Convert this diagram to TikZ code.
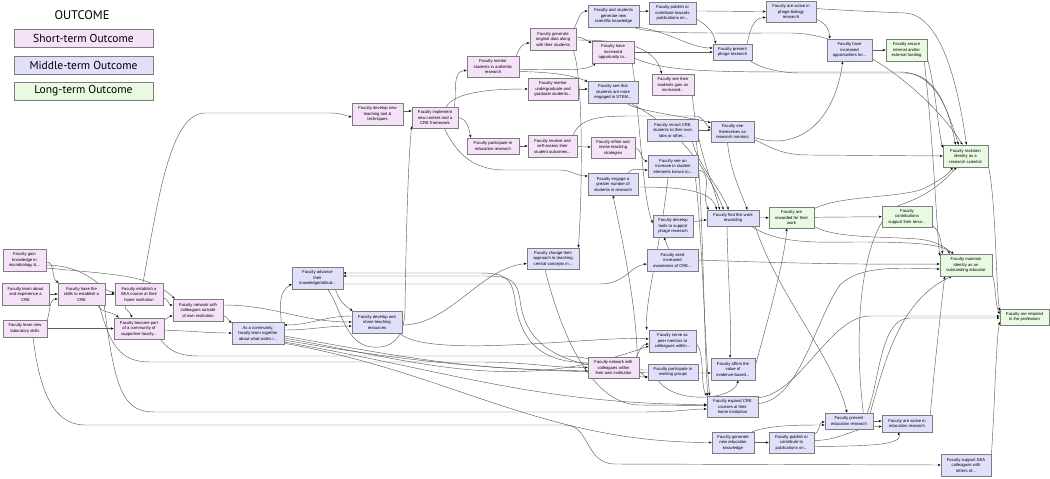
\documentclass[tikz,border=0pt]{standalone}
\usepackage{fontspec}
\setmainfont{Liberation Sans}
\newfontfamily\legfont{PT Sans}
\usetikzlibrary{arrows.meta,backgrounds}
\definecolor{stc}{RGB}{245,225,248}
\definecolor{mtc}{RGB}{224,224,250}
\definecolor{ltc}{RGB}{232,250,226}
\definecolor{bdc}{RGB}{125,125,125}
\definecolor{lnc}{RGB}{95,95,95}
\newcommand{\bx}[7]{\node[box,#6,minimum width={((#4)-(#2))*1pt},minimum height={((#5)-(#3))*1pt}] (#1) at ({((#2)+(#4))/2},{-((#3)+(#5))/2}) {#7};}
\begin{document}
\begin{tikzpicture}[x=1pt,y=1pt,
 box/.style={draw=bdc,line width=0.6pt,inner sep=0.5pt,align=center,font=\fontsize{4.2}{5.5}\selectfont},
 st/.style={fill=stc}, mt/.style={fill=mtc}, lt/.style={fill=ltc},
 e/.style={draw=lnc,line width=0.45pt,-{Stealth[length=3pt,width=2.4pt,color=black]}},
 lg/.style={draw=bdc,line width=0.8pt,minimum width=139pt,minimum height=18pt,inner sep=0pt,font=\legfont\fontsize{11.5}{13}\selectfont}]
\useasboundingbox (0,0) rectangle (1050,-479);
% legend
\node[font=\legfont\fontsize{12.5}{14}\selectfont] (title) at (82,-15) {OUTCOME};
\node[lg,fill=stc] (l1) at (83.5,-38) {Short-term Outcome};
\node[lg,fill=mtc] (l2) at (83.5,-65) {Middle-term Outcome};
\node[lg,fill=ltc] (l3) at (83.5,-91) {Long-term Outcome};
% nodes
\bx{gain}{3}{249}{46}{271}{st}{Faculty gain\\knowledge in\\microbiology \&...}
\bx{about}{2}{283}{49}{305}{st}{Faculty learn about\\and experience a\\CRE}
\bx{skills}{58}{283}{105}{305}{st}{Faculty have the\\skills to establish a\\CRE}
\bx{estab}{115}{283}{163}{305}{st}{Faculty establish a\\SEA course at their\\home institution}
\bx{netout}{173}{299}{223}{321}{st}{Faculty network with\\colleagues outside\\of own institution}
\bx{become}{114}{318}{164}{339}{st}{Faculty become part\\of a community of\\supportive faculty...}
\bx{lab}{3}{320}{47}{337}{st}{Faculty learn new\\laboratory skills}
\bx{comm}{232}{322}{284}{344}{mt}{As a community,\\faculty learn together\\about what works i...}
\bx{adv}{292}{267}{343}{289}{mt}{Faculty advance\\their\\knowledge/attitud...}
\bx{share}{352}{311}{402}{333}{mt}{Faculty develop and\\share teaching\\resources}
\bx{newtool}{352}{103}{403}{125}{st}{Faculty develop new\\teaching tool \&\\techniques}
\bx{impl}{412}{107}{458}{128}{st}{Faculty implement\\new content and a\\CRE framework}
\bx{mauth}{467}{56}{519}{77}{st}{Faculty mentor\\students in authentic\\research}
\bx{partedu}{467}{138}{519}{154}{st}{Faculty participate in\\education research}
\bx{gendata}{530}{28}{576}{50}{st}{Faculty generate\\original data along\\with their students}
\bx{know}{588}{5}{639}{27}{mt}{Faculty and students\\generate new\\scientific knowledge}
\bx{pub}{649}{2}{696}{24}{mt}{Faculty publish or\\contribute towards\\publications on...}
\bx{incopp}{592}{41}{634}{63}{st}{Faculty have\\increased\\opportunity to...}
\bx{prph}{713}{44}{752}{60}{mt}{Faculty present\\phage research}
\bx{seegain}{652}{74}{694}{95}{st}{Faculty see their\\students gain an\\increased...}
\bx{mug}{528}{78}{578}{100}{st}{Faculty mentor\\undergraduate and\\graduate students...}
\bx{seeeng}{588}{81}{638}{103}{mt}{Faculty see that\\students are more\\engaged in STEM...}
\bx{recruit}{647}{119}{698}{141}{mt}{Faculty recruit CRE\\students to their own\\labs or other...}
\bx{seeth}{711}{121}{754}{142}{mt}{Faculty see\\themselves as\\research mentors}
\bx{recv}{528}{135}{577}{157}{st}{Faculty receive and\\self-assess their\\student outcomes...}
\bx{refine}{591}{137}{635}{158}{st}{Faculty refine and\\revise teaching\\strategies}
\bx{seeinc}{648}{155}{698}{177}{mt}{Faculty see an\\increase in student\\elements known to...}
\bx{actph}{766}{1}{816}{22}{mt}{Faculty are active in\\phage biology\\research}
\bx{incopps}{827}{39}{872}{61}{mt}{Faculty have\\increased\\opportunities for...}
\bx{fund}{886}{39}{927}{61}{lt}{Faculty secure\\internal and/or\\external funding}
\bx{rsci}{943}{145}{988}{167}{lt}{Faculty maintain\\identity as a\\research scientist}
\bx{engage}{588}{173}{638}{195}{mt}{Faculty engage a\\greater number of\\students in research}
\bx{tools}{653}{215}{693}{237}{mt}{Faculty develop\\tools to support\\phage research}
\bx{rwd}{707}{210}{759}{226}{mt}{Faculty find this work\\rewarding}
\bx{change}{527}{248}{579}{269}{mt}{Faculty change their\\approach to teaching\\central concepts in...}
\bx{seed}{647}{249}{698}{271}{mt}{Faculty seed\\increased\\awareness of CRE...}
\bx{rwdd}{769}{207}{814}{228}{lt}{Faculty are\\rewarded for their\\work}
\bx{tenure}{882}{206}{932}{227}{lt}{Faculty\\contributions\\support their tenur...}
\bx{educ}{940}{254}{992}{276}{lt}{Faculty maintain\\identity as an\\outstanding educator}
\bx{retain}{1000}{309}{1049}{325}{lt}{Faculty are retained\\in the profession}
\bx{peer}{649}{330}{696}{352}{mt}{Faculty serve as\\peer mentors to\\colleagues within...}
\bx{netin}{588}{357}{639}{378}{st}{Faculty network with\\colleagues within\\their own institution}
\bx{wgroup}{648}{364}{698}{380}{mt}{Faculty participate in\\working groups}
\bx{affirm}{711}{358}{755}{380}{mt}{Faculty affirm the\\value of\\evidence-based...}
\bx{expand}{707}{396}{758}{417}{mt}{Faculty expand CRE\\courses at their\\home institution}
\bx{genedu}{712}{432}{754}{453}{mt}{Faculty generate\\new education\\knowledge}
\bx{pubedu}{769}{432}{814}{453}{mt}{Faculty publish or\\contribute to\\publications on...}
\bx{predu}{825}{413}{873}{429}{mt}{Faculty present\\education research}
\bx{actedu}{882}{415}{932}{432}{mt}{Faculty are active in\\education research}
\bx{supsea}{941}{454}{991}{476}{mt}{Faculty support SEA\\colleagues with\\letters of...}
\begin{pgfonlayer}{background}
% left cluster
\draw[e] ([yshift=-2pt]gain.east) to[out=0,in=150] ([xshift=1pt]skills.north west);
\draw[e] ([yshift=-5pt]gain.east) .. controls (90,-266) and (100,-290) .. ([yshift=1pt]estab.west);
\draw[e] ([yshift=-8pt]gain.east) .. controls (120,-275) and (150,-275) .. ([xshift=2pt]netout.north west);
\draw[e] (about) -- (skills);
\draw[e] (lab.north east) to[out=70,in=180] ([yshift=-5pt]skills.west);
\draw[e] (lab) -- (become);
\draw[e] ([xshift=8pt]lab.south) .. controls (40,-395) and (55,-425) .. (85,-425) -- (565,-425) .. controls (590,-425) and (585,-464) .. (615,-464) -- (supsea.west);
\draw[e] (skills) -- (estab);
\draw[e] ([xshift=-8pt]skills.south east) to[out=-60,in=135] ([xshift=5pt]become.north west);
\draw[e] ([xshift=-6pt]skills.south east) .. controls (110,-345) and (120,-362) .. (150,-362) -- (480,-362) .. controls (530,-362) and (550,-368) .. (netin.west);
\draw[e] ([xshift=-1pt]skills.south east) .. controls (115,-395) and (125,-412) .. (155,-412) -- (640,-412) .. controls (680,-412) and (690,-409) .. ([yshift=-2.5pt]expand.west);
\draw[e] ([xshift=-14pt]estab.south) to[out=-100,in=80] ([xshift=-8pt]become.north);
\draw[e] ([yshift=-4pt]estab.east) to[out=0,in=180] ([yshift=5pt]netout.west);
\draw[e] ([xshift=4pt]estab.north) .. controls (158,-200) and (170,-113) .. (205,-113) -- (330,-113) .. controls (342,-113) and (346,-116) .. ([yshift=-3pt]newtool.west);
\draw[e] ([yshift=-2pt]become.north east) to[out=20,in=180] ([yshift=-6pt]netout.west);
\draw[e] ([yshift=-2pt]become.east) to[out=0,in=180] (comm.west);
\draw[e] ([xshift=-4pt]become.south east) .. controls (170,-352) and (180,-356) .. (200,-356) -- (560,-356) .. controls (610,-356) and (620,-377) .. ([yshift=-5pt]wgroup.west);
\draw[e] ([yshift=-6pt]netout.east) to[out=0,in=150] ([yshift=-1pt]comm.north west);
\draw[e] ([yshift=5pt]netout.east) to[out=0,in=180] (share.west);
\draw[e] ([yshift=3pt]comm.east) to[out=0,in=180] ([yshift=-4pt]share.west);
\draw[e] ([yshift=6pt]share.west) to[out=180,in=0] ([yshift=8pt]comm.east);
\draw[e] ([xshift=-3pt]comm.north east) to[out=95,in=-150] ([yshift=-6pt]adv.west);
\draw[e] ([xshift=-8pt]adv.south east) to[out=-70,in=150] ([xshift=1pt]share.north west);
\draw[e] ([xshift=10pt]adv.south) .. controls (340,-305) and (345,-345) .. (372,-347) .. controls (395,-349) and (404,-335) .. (405,-310) .. controls (406,-240) and (408,-160) .. ([yshift=2pt]impl.south west);
\draw[e] ([yshift=-6pt]adv.east) -- (600,-284) .. controls (625,-284) and (630,-266) .. ([yshift=-4pt]seed.west);
\draw[e] ([yshift=-3pt]share.east) .. controls (450,-325) and (480,-268) .. ([yshift=-5pt]change.west);
\draw[e] ([yshift=5pt]netin.west) .. controls (540,-363) and (520,-340) .. (515,-300) .. controls (512,-278) and (505,-273) .. (480,-273) -- ([yshift=5pt]adv.east);
\draw[e] ([yshift=2pt]wgroup.west) .. controls (560,-370) and (525,-345) .. (520,-300) .. controls (517,-280) and (510,-276) .. (485,-276) -- ([yshift=2pt]adv.east);
\draw[e] ([yshift=-3pt]comm.east) to[out=-10,in=180] ([yshift=-3pt]netin.west);
\draw[e] ([yshift=-5pt]comm.east) to[out=-10,in=200] ([yshift=-5pt]peer.west);
\draw[e] ([yshift=-7pt]comm.east) to[out=-10,in=180] ([yshift=-4pt]affirm.west);
\draw[e] ([yshift=-9pt]comm.east) to[out=-10,in=180] ([yshift=2pt]expand.west);
\draw[e] ([yshift=1pt]comm.south east) to[out=-10,in=180] (genedu.west);
\draw[e] ([xshift=-3pt]share.south east) .. controls (430,-360) and (600,-335) .. ([yshift=2pt]peer.west);
% top
\draw[e] ([yshift=3pt]newtool.east) -- ([yshift=6.5pt]impl.west);
\draw[e] ([xshift=-4pt]impl.north east) to[out=80,in=180] ([yshift=-4pt]mauth.west);
\draw[e] ([xshift=-12pt]impl.north east) .. controls (455,-92) and (490,-89) .. (mug.west);
\draw[e] (impl.east) to[out=-10,in=100] ([xshift=4pt]partedu.north west);
\draw[e] ([xshift=-14pt]impl.south east) .. controls (455,-150) and (470,-170) .. (505,-170) -- (560,-170) to[out=0,in=180] ([yshift=8pt]engage.west);
\draw[e] ([xshift=-3pt]mauth.north east) to[out=70,in=180] ([yshift=-4pt]gendata.west);
\draw[e] ([yshift=-5pt]mauth.east) .. controls (545,-72) and (570,-74) .. ([yshift=-1pt]seeeng.north west);
\draw[e] ([yshift=-3pt]mauth.east) .. controls (560,-69) and (585,-72) .. ([xshift=4pt]incopp.south west);
\draw[e] ([xshift=-2pt]gendata.north east) to[out=60,in=180] ([yshift=5pt]know.west);
\draw[e] ([yshift=2pt]gendata.east) to[out=0,in=160] ([yshift=-2pt]incopp.north west);
\draw[e] ([yshift=-1pt]gendata.east) .. controls (620,-40) and (655,-45) .. ([xshift=10pt]seegain.north west);
\draw[e] ([xshift=-3pt]gendata.south east) .. controls (584,-80) and (582,-200) .. ([xshift=-1pt]change.north east);
\draw[e] ([yshift=5pt]know.east) to[out=0,in=180] ([yshift=2pt]pub.west);
\draw[e] (know.south east) .. controls (670,-32) and (690,-48) .. ([yshift=4pt]prph.west);
\draw[e] ([xshift=-6pt]know.south east) .. controls (650,-34) and (700,-33) .. (790,-33) .. controls (860,-33) and (935,-100) .. ([xshift=-3pt]rsci.north);
\draw[e] ([yshift=-6pt]pub.east) to[out=-30,in=100] ([xshift=3pt]prph.north west);
\draw[e] ([yshift=2pt]pub.east) to[out=0,in=180] (actph.west);
\draw[e] (incopp.east) -- (prph.west);
\draw[e] ([xshift=-2pt]incopp.south east) .. controls (640,-120) and (643,-200) .. ([yshift=3pt]tools.west);
\draw[e] ([yshift=-6pt]incopp.east) .. controls (660,-70) and (700,-72) .. (790,-72) -- (900,-72) .. controls (935,-72) and (948,-110) .. ([xshift=-7pt]rsci.north);
\draw[e] ([xshift=-5pt]prph.north east) to[out=80,in=180] ([yshift=-6pt]actph.west);
\draw[e] ([xshift=-3pt]prph.south east) .. controls (760,-68) and (780,-73) .. (800,-73) -- (905,-73) .. controls (938,-73) and (950,-115) .. ([xshift=-10pt]rsci.north);
\draw[e] ([yshift=3pt]actph.south east) to[out=-20,in=90] ([xshift=3pt]incopps.north west);
\draw[e] ([yshift=3pt]actph.east) .. controls (835,-10) and (880,-12) .. (905,-13) .. controls (945,-15) and (960,-100) .. ([xshift=1pt]rsci.north);
\draw[e] (incopps) -- (fund);
\draw[e] ([yshift=3pt]fund.south east) .. controls (936,-90) and (938,-130) .. ([yshift=-3pt]rsci.north west);
\draw[e] ([xshift=-3pt]fund.south east) .. controls (934,-150) and (936,-220) .. ([yshift=-2pt]educ.north west);
\draw[e] ([xshift=-2pt]seegain.south east) .. controls (697,-150) and (712,-180) .. ([xshift=13pt]rwd.north west);
\draw[e] (mug.east) -- (mug.east -| seeeng.west);
\draw[e] ([xshift=-12pt]seeeng.south east) .. controls (640,-112) and (690,-117) .. ([yshift=-2pt]seeth.north west);
\draw[e] ([xshift=-8pt]seeeng.south east) .. controls (660,-118) and (700,-150) .. ([xshift=17pt]rwd.north west);
\draw[e] (partedu) -- (recv);
\draw[e] (recv) -- (refine);
\draw[e] ([xshift=-4pt]recv.north east) .. controls (580,-118) and (600,-116) .. (630,-116) -- (695,-116) .. controls (703,-116) and (706,-125) .. ([yshift=3pt]seeth.west);
\draw[e] ([yshift=-1pt]refine.east) to[out=0,in=180] ([yshift=5pt]seeinc.west);
\draw[e] (recruit.east) -- (recruit.east -| seeth.west);
\draw[e] ([xshift=-6pt]recruit.south east) .. controls (698,-165) and (718,-185) .. ([xshift=22pt]rwd.north west);
\draw[e] ([xshift=-2pt]recruit.south east) .. controls (703,-200) and (704,-340) .. ([xshift=1pt]expand.north west);
\draw[e] ([yshift=-8pt]seeth.east) .. controls (775,-150) and (785,-155) .. (810,-155) -- (rsci.west);
\draw[e] ([yshift=-6pt]seeth.east) .. controls (800,-152) and (835,-120) .. ([xshift=16pt]incopps.south west);
\draw[e] ([xshift=-5pt]seeth.south) .. controls (730,-170) and (740,-190) .. ([xshift=-12pt]rwd.north east);
\draw[e] ([yshift=-4pt]seeinc.east) to[out=-10,in=120] ([xshift=2pt]rwd.north west);
\draw[e] ([xshift=-5pt]seeinc.south) .. controls (660,-250) and (645,-300) .. ([xshift=-2pt]peer.north west);
\draw[e] ([xshift=-3pt]seeinc.south east) .. controls (702,-230) and (705,-350) .. ([xshift=3pt]expand.north west);
\draw[e] ([xshift=-10pt]engage.north east) to[out=50,in=180] ([yshift=-4pt]seeinc.west);
\draw[e] ([yshift=-3pt]engage.east) .. controls (680,-187) and (712,-190) .. ([xshift=10pt]rwd.north west);
\draw[e] ([yshift=4pt]tools.east) to[out=10,in=180] ([yshift=-2pt]rwd.west);
\draw[e] ([xshift=-4pt]seed.north) -- ([xshift=-9pt]tools.south);
\draw[e] ([xshift=-2pt]netin.north east) .. controls (636,-300) and (620,-230) .. (engage.south);
\draw[e] ([xshift=-8pt]change.south) .. controls (560,-330) and (590,-405) .. (640,-405) -- ([yshift=1pt]expand.west);
\draw[e] (seed.east) .. controls (750,-262) and (850,-265) .. ([yshift=1pt]educ.west);
% right
\draw[e] (rwd) -- (rwdd);
\draw[e] ([xshift=-8pt]rwd.south east) .. controls (780,-245) and (820,-242) .. (860,-242) .. controls (920,-242) and (945,-245) .. ([xshift=10pt]educ.north west);
\draw[e] ([xshift=-6pt]rwd.south) .. controls (728,-280) and (732,-330) .. ([xshift=-3pt]affirm.north);
\draw[e] ([xshift=-4pt]rwd.south east) .. controls (775,-290) and (835,-360) .. ([xshift=-2pt]predu.north);
\draw[e] (rwdd) -- (tenure);
\draw[e] ([yshift=-2pt]rwdd.north east) .. controls (840,-195) and (905,-198) .. (925,-188) .. controls (940,-180) and (948,-175) .. ([xshift=10pt]rsci.south west);
\draw[e] ([yshift=2pt]rwdd.south east) .. controls (835,-240) and (905,-236) .. (925,-240) .. controls (940,-243) and (945,-248) .. ([xshift=14pt]educ.north west);
\draw[e] ([yshift=2pt]tenure.south east) to[out=-40,in=100] ([xshift=3pt]educ.north west);
\draw[e] ([yshift=2pt]rsci.south east) .. controls (996,-200) and (996,-290) .. ([yshift=-2pt]retain.north west);
\draw[e] ([yshift=2pt]educ.south east) .. controls (996,-285) and (995,-305) .. ([yshift=3pt]retain.west);
\draw[e] ([yshift=-3pt]supsea.north east) .. controls (995,-400) and (996,-340) .. ([yshift=-5pt]retain.west);
\draw[e] ([xshift=-6pt]predu.north east) .. controls (880,-380) and (880,-318) .. (910,-318) -- ([yshift=-1pt]retain.west);
\draw[e] ([yshift=-2pt]expand.north east) .. controls (800,-394) and (830,-316) .. (870,-316) -- ([yshift=1pt]retain.west);
\draw[e] ([xshift=-3pt]netin.north east) to[out=60,in=180] ([yshift=-3pt]peer.west);
\draw[e] ([yshift=-5pt]netin.east) to[out=0,in=180] ([yshift=-5pt]wgroup.west);
\draw[e] ([xshift=-15pt]wgroup.south) .. controls (675,-405) and (735,-400) .. ([xshift=5pt]affirm.south);
\draw[e] ([yshift=-3pt]peer.east) .. controls (705,-352) and (700,-385) .. (expand.north west);
\draw[e] ([yshift=3pt]affirm.east) .. controls (765,-330) and (785,-260) .. ([xshift=18pt]rwdd.south west);
\draw[e] ([yshift=3pt]expand.east) .. controls (800,-400) and (815,-320) .. (840,-285) .. controls (860,-265) and (900,-268) .. ([yshift=-4pt]educ.west);
\draw[e] ([xshift=-3pt]predu.north east) .. controls (885,-360) and (900,-300) .. ([xshift=12pt]educ.south west);
\draw[e] ([xshift=-10pt]predu.north east) .. controls (850,-300) and (870,-215) .. (900,-205) .. controls (930,-195) and (945,-180) .. ([xshift=14pt]rsci.south west);
\draw[e] ([xshift=-2pt]actedu.north east) .. controls (934,-370) and (942,-300) .. ([xshift=5pt]educ.south west);
\draw[e] (genedu) -- (pubedu);
\draw[e] ([xshift=-2pt]genedu.north east) .. controls (770,-425) and (800,-425) .. ([yshift=-4pt]predu.west);
\draw[e] ([yshift=-3pt]pubedu.north east) to[out=20,in=180] ([yshift=-1pt]predu.west);
\draw[e] ([yshift=2pt]pubedu.east) to[out=0,in=180] ([yshift=-3pt]actedu.west);
\draw[e] (predu.east) -- (predu.east -| actedu.west);
\draw[e] ([yshift=-4pt]pubedu.east) .. controls (860,-446) and (905,-446) .. ([xshift=-9pt]actedu.south);
\end{pgfonlayer}
\end{tikzpicture}
\end{document}
